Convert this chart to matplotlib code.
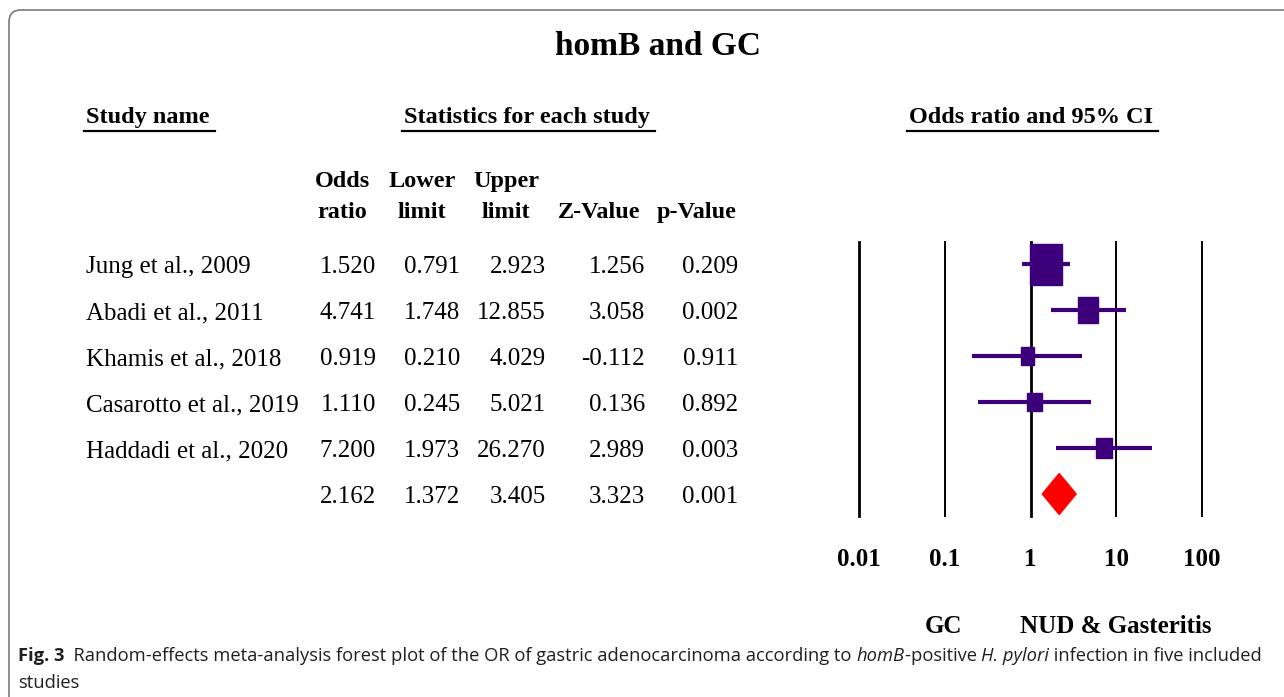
import numpy as np
import matplotlib
matplotlib.use('Agg')
import matplotlib.pyplot as plt
from matplotlib.patches import FancyBboxPatch, Polygon
from matplotlib.path import Path

# data
studies = ['Jung et al., 2009', 'Abadi et al., 2011', 'Khamis et al., 2018',
           'Casarotto et al., 2019', 'Haddadi et al., 2020']
odds_ratio = [1.520, 4.741, 0.919, 1.110, 7.200]
lower = [0.791, 1.748, 0.210, 0.245, 1.973]
upper = [2.923, 12.855, 4.029, 5.021, 26.270]
z_value = [1.256, 3.058, -0.112, 0.136, 2.989]
p_value = [0.209, 0.002, 0.911, 0.892, 0.003]
weights = [49.2, 19.2, 8.8, 10.2, 12.6]   # relative weight (box area)
pooled = {'or': 2.162, 'lower': 1.372, 'upper': 3.405, 'z': 3.323, 'p': 0.001}
xticks = [0.01, 0.1, 1, 10, 100]
xticklabels = ['0.01', '0.1', '1', '10', '100']

W, H = 1284, 697
serif = 'Liberation Serif'
purple = '#3d007b'
row0, row_h = 264, 46

fig = plt.figure(figsize=(W / 100, H / 100), dpi=100)

# background axes in pixel coordinates for the table text
bg = fig.add_axes([0, 0, 1, 1])
bg.set_xlim(0, W)
bg.set_ylim(H, 0)
bg.axis('off')

bg.add_patch(FancyBboxPatch((9, 10), 1400, 800, boxstyle='round,pad=0,rounding_size=12',
                            fc='none', ec='#7a7a7a', lw=1.2))

bg.text(658, 55, 'homB and GC', family=serif, weight='bold', fontsize=24,
        ha='center', va='baseline')

renderer = fig.canvas.get_renderer()
inv = bg.transData.inverted()


def underlined(x, text, ha):
    t = bg.text(x, 123, text, family=serif, weight='bold', fontsize=17.5,
                ha=ha, va='baseline')
    bb = t.get_window_extent(renderer)
    x0, _ = inv.transform((bb.x0, bb.y0))
    x1, _ = inv.transform((bb.x1, bb.y0))
    bg.plot([x0 - 2, x1 + 5], [131, 131], color='black', lw=1.6)


underlined(86, 'Study name', 'left')
underlined(527, 'Statistics for each study', 'center')
underlined(1031, 'Odds ratio and 95% CI', 'center')

col_right = [376, 460, 546, 645, 738]
head_center = [342, 422, 506, 599, 697]
head1 = ['Odds', 'Lower', 'Upper', '', '']
head2 = ['ratio', 'limit', 'limit', 'Z-Value', 'p-Value']
for x, a, b in zip(head_center, head1, head2):
    bg.text(x, 187, a, family=serif, weight='bold', fontsize=17.5, ha='center', va='baseline')
    bg.text(x, 218, b, family=serif, weight='bold', fontsize=17.5, ha='center', va='baseline')

rows = list(zip(odds_ratio, lower, upper, z_value, p_value))
rows.append((pooled['or'], pooled['lower'], pooled['upper'], pooled['z'], pooled['p']))
names = studies + ['']
for i, (name, vals) in enumerate(zip(names, rows)):
    yb = row0 + row_h * i + 9
    bg.text(86, yb, name, family=serif, fontsize=18, va='baseline')
    for x, v in zip(col_right, vals):
        bg.text(x, yb, f'{v:.3f}', family=serif, fontsize=18, ha='right', va='baseline')

bg.text(944, 633, 'GC', family=serif, weight='bold', fontsize=18, ha='center', va='baseline')
bg.text(1116, 633, 'NUD & Gasteritis', family=serif, weight='bold', fontsize=18,
        ha='center', va='baseline')

# caption
cap = [('Fig. 3', 'bold', 'normal'),
       ('  Random-effects meta-analysis forest plot of the OR of gastric adenocarcinoma according to ',
        'normal', 'normal'),
       ('homB', 'normal', 'italic'), ('-positive ', 'normal', 'normal'),
       ('H. pylori', 'normal', 'italic'), (' infection in five included', 'normal', 'normal')]
x = 18
for s, wgt, sty in cap:
    t = bg.text(x, 661, s, family='Open Sans', weight=wgt, style=sty, fontsize=13.2,
                color='#231f20', va='baseline')
    bb = t.get_window_extent(renderer)
    x = inv.transform((bb.x1, bb.y0))[0]
bg.text(18, 688, 'studies', family='Open Sans', fontsize=13.2, color='#231f20', va='baseline')

# forest plot axes
top_px, bot_px, left_px, right_px = 242, 516, 859, 1202
ax = fig.add_axes([left_px / W, 1 - bot_px / H, (right_px - left_px) / W, (bot_px - top_px) / H])
ax.set_xscale('log')
ax.set_xlim(xticks[0], xticks[-1])
ax.set_ylim((bot_px - row0) / row_h, (top_px - row0) / row_h)
ax.patch.set_alpha(0)
for sp in ax.spines.values():
    sp.set_visible(False)
ax.set_yticks([])
ax.set_xticks(xticks)
ax.set_xticklabels(xticklabels, family=serif, weight='bold', fontsize=18)
ax.xaxis.set_minor_locator(matplotlib.ticker.NullLocator())
ax.tick_params(axis='x', length=0, pad=23)

for v in xticks:
    lw = 2.0 if v in (0.01, 1) else 1.4
    ax.axvline(v, color='black', lw=lw, clip_on=False)

y = np.arange(len(studies))
ax.hlines(y, lower, upper, color=purple, lw=3)
box = Path([(-0.39, -0.5), (0.39, -0.5), (0.39, 0.5), (-0.39, 0.5), (-0.39, -0.5)])
box_px = 41 * np.sqrt(np.array(weights) / max(weights))
ax.scatter(odds_ratio, y, marker=box, s=(box_px * 0.72) ** 2, color=purple, zorder=3)

yd = len(studies)
hh = 20.5 / row_h
ax.add_patch(Polygon([(pooled['lower'], yd), (pooled['or'], yd - hh),
                      (pooled['upper'], yd), (pooled['or'], yd + hh)],
                     closed=True, fc='red', ec='red', zorder=3))

fig.savefig('out.png', dpi=100)
